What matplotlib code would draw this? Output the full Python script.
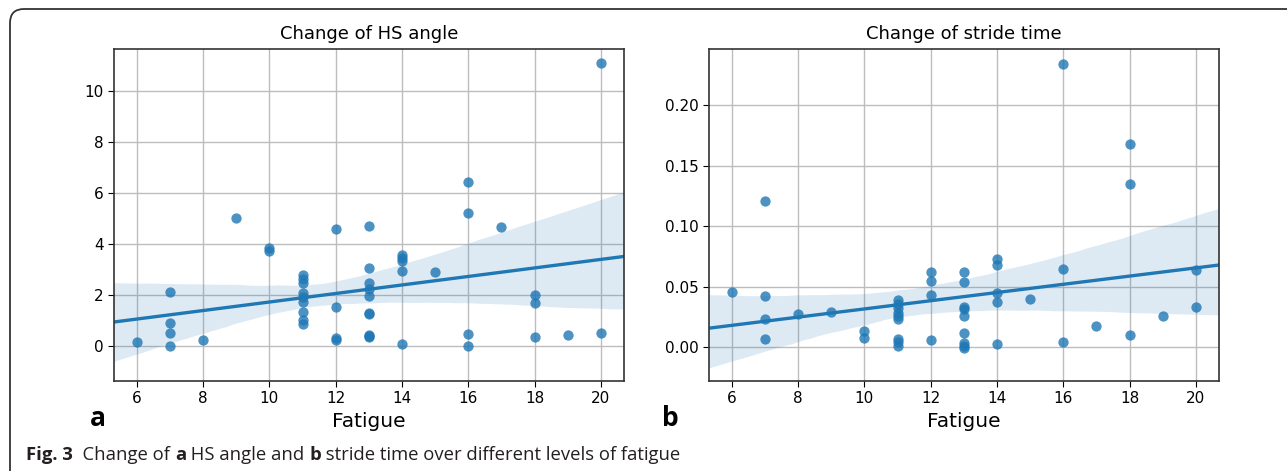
import numpy as np
import matplotlib
matplotlib.use("Agg")
import matplotlib.pyplot as plt
import seaborn as sns
from matplotlib.path import Path
from matplotlib.patches import PathPatch
from matplotlib.transforms import IdentityTransform

# fatigue level per subject/trial and the change measured
fatigue_hs = [6, 7, 7, 7, 7, 8, 9, 10, 10,
              11, 11, 11, 11, 11, 11, 11, 11, 11,
              12, 12, 12, 12,
              13, 13, 13, 13, 13, 13, 13, 13, 13, 13,
              14, 14, 14, 14, 14, 15,
              16, 16, 16, 16, 17, 18, 18, 18, 19, 20, 20]
hs_angle = [0.17, 2.12, 0.92, 0.50, 0.02, 0.22, 5.03, 3.85, 3.72,
            2.78, 2.62, 2.48, 2.10, 1.93, 1.72, 1.32, 1.03, 0.87,
            4.58, 1.55, 0.30, 0.25,
            4.72, 3.08, 2.47, 2.22, 1.98, 1.30, 1.26, 0.44, 0.40, 0.35,
            3.57, 3.45, 3.32, 2.95, 0.08, 2.92,
            6.45, 5.22, 0.47, 0.02, 4.67, 2.02, 1.68, 0.37, 0.42, 11.1, 0.50]

fatigue_st = [6, 7, 7, 7, 7, 8, 9, 10, 10,
              11, 11, 11, 11, 11, 11, 11, 11, 11,
              12, 12, 12, 12,
              13, 13, 13, 13, 13, 13, 13, 13, 13,
              14, 14, 14, 14, 14, 15,
              16, 16, 16, 17, 18, 18, 18, 19, 20, 20]
stride_time = [0.0456, 0.121, 0.042, 0.0229, 0.0069, 0.027, 0.029, 0.0135, 0.0075,
               0.039, 0.0355, 0.032, 0.028, 0.0255, 0.0233, 0.0066, 0.0040, 0.0008,
               0.062, 0.055, 0.0428, 0.0055,
               0.062, 0.054, 0.033, 0.0315, 0.0254, 0.0115, 0.0030, 0.0008, -0.0010,
               0.073, 0.0677, 0.0448, 0.037, 0.0028, 0.0398,
               0.234, 0.0646, 0.0044, 0.0177, 0.168, 0.135, 0.0097, 0.0257, 0.0635, 0.0329]

W, H = 1287, 471
fig = plt.figure(figsize=(W / 100, H / 100), dpi=100)

ax1 = fig.add_axes([114 / W, 1 - 381 / H, 510 / W, 332.3 / H])
ax2 = fig.add_axes([709 / W, 1 - 381 / H, 510 / W, 332.3 / H])

panels = [(ax1, fatigue_hs, hs_angle, "Change of HS angle", (-1.37, 11.66), [0, 2, 4, 6, 8, 10], "a"),
          (ax2, fatigue_st, stride_time, "Change of stride time", (-0.028, 0.2465),
           [0.0, 0.05, 0.10, 0.15, 0.20], "b")]

for ax, x, y, title, ylim, yticks, letter in panels:
    ax.set_axisbelow(True)
    ax.grid(True, color="#bdbdbd", lw=1.0)
    ax.set_xlim(5.31, 20.7)
    sns.regplot(x=np.array(x, float), y=np.array(y, float), ax=ax, ci=95, seed=3,
                truncate=False, color="#1f77b4",
                scatter_kws={"s": 55, "alpha": 0.8, "linewidths": 0},
                line_kws={"lw": 2.4})
    ax.set_xlim(5.31, 20.7)
    ax.set_ylim(*ylim)
    ax.set_xticks(range(6, 21, 2))
    ax.set_yticks(yticks)
    if letter == "b":
        ax.set_yticklabels(["%.2f" % t for t in yticks])
    ax.tick_params(labelsize=11, length=4)
    ax.set_title(title, fontsize=13, pad=7)
    ax.set_xlabel("Fatigue", fontsize=14.5, labelpad=4)
    for s in ax.spines.values():
        s.set_color("#333333")
        s.set_linewidth(1.2)

fig.text(98 / W, 1 - 418 / H, "a", fontsize=19, fontweight="bold", family="Open Sans",
         ha="center", va="center")
fig.text(670 / W, 1 - 418 / H, "b", fontsize=19, fontweight="bold", family="Open Sans",
         ha="center", va="center")

# rounded frame (only top and left edges visible)
r = 14
verts = [(10, -5), (10, H - 9 - r), (10, H - 9), (10 + r, H - 9), (W + 5, H - 9)]
codes = [Path.MOVETO, Path.LINETO, Path.CURVE3, Path.CURVE3, Path.LINETO]
fig.patches.append(PathPatch(Path(verts, codes), fill=False, lw=1.3, ec="#333333",
                             transform=IdentityTransform()))

# caption with bold pieces
pieces = [("Fig. 3", "bold"), ("  Change of ", "normal"), ("a", "bold"),
          (" HS angle and ", "normal"), ("b", "bold"),
          (" stride time over different levels of fatigue", "normal")]
renderer = fig.canvas.get_renderer()
xpos = 26.5
for txt, wt in pieces:
    t = fig.text(xpos / W, 1 - 460 / H, txt, fontsize=13.3, fontweight=wt,
                 family="Open Sans", color="#231f20", va="baseline", ha="left")
    bb = t.get_window_extent(renderer=renderer)
    xpos += bb.width

fig.savefig("out.png", dpi=100)
